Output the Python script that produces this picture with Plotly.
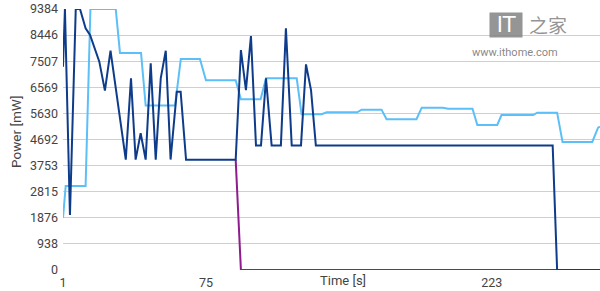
import plotly.graph_objects as go

# ---- data ----
dark_x = [1, 2.0, 4.6, 7.6, 9.8, 12.7, 15.0, 19.8, 22.7, 25.6, 33.5, 36.2, 38.6, 41.2, 43.8,
          46.4, 49.0, 51.6, 54.2, 56.7, 59.9, 61.9, 64.7, 90.4, 93.1, 95.7, 98.3, 100.9,
          103.5, 106.1, 109.0, 113.8, 116.4, 119.4, 124.2, 126.8, 129.4, 131.9, 254.5,
          256.8, 279]
dark_y = [7310, 9384, 1980, 9384, 9384, 8690, 8450, 7490, 6450, 7885, 3970, 6890, 3970, 4915,
          3970, 7430, 3970, 6890, 7885, 3970, 6410, 6410, 3960, 3960, 7910, 6470, 8410, 4480,
          4480, 6890, 4480, 4480, 8690, 4480, 4480, 7395, 6470, 4480, 4480, 0, 0]

light_x = [1, 2.4, 12.7, 15.2, 28.3, 30.5, 41.4, 43.8, 59.0, 62.0, 71.9, 75.0, 90.4, 93.1,
           103.3, 106.1, 122.0, 124.5, 134.9, 137.5, 153.3, 155.6, 165.9, 168.5, 184.0,
           186.7, 197.7, 200.3, 213.0, 215.5, 225.8, 228.0, 244.4, 246.5, 256.8, 259.6,
           275.0, 278.0, 279]
light_y = [1876, 3020, 3020, 9384, 9384, 7805, 7805, 5910, 5910, 7590, 7590, 6820, 6820, 6137,
           6137, 6890, 6890, 5600, 5600, 5670, 5670, 5765, 5765, 5420, 5420, 5836, 5836, 5800,
           5800, 5214, 5214, 5573, 5573, 5656, 5656, 4602, 4602, 5117, 5150]

purple_x = [90.4, 93.1, 256.8]
purple_y = [3960, 0, 0]

y_ticks = [0, 938, 1876, 2815, 3753, 4692, 5630, 6569, 7507, 8446, 9384]
x_ticks = [1, 75, 223]

FONT = "Roboto"
TXT = "#444444"

fig = go.Figure()
fig.add_trace(go.Scatter(x=light_x, y=light_y, mode="lines",
                         line=dict(color="#5cbff7", width=2), showlegend=False))
fig.add_trace(go.Scatter(x=purple_x, y=purple_y, mode="lines",
                         line=dict(color="#8e1c8e", width=2), showlegend=False))
fig.add_trace(go.Scatter(x=dark_x, y=dark_y, mode="lines",
                         line=dict(color="#0e3c8a", width=2), showlegend=False))

fig.update_layout(
    width=600, height=291,
    margin=dict(l=63, r=0, t=9, b=21),
    paper_bgcolor="white", plot_bgcolor="white",
    font=dict(family=FONT, size=12, color=TXT),
    xaxis=dict(range=[1, 279], tickvals=x_ticks, ticktext=[str(v) for v in x_ticks],
               showgrid=False, zeroline=False, showline=False,
               ticks="", ticklabelstandoff=3,
               tickfont=dict(family=FONT, size=12.5, color=TXT)),
    yaxis=dict(range=[0, 9384], tickvals=y_ticks, ticktext=[str(v) for v in y_ticks],
               showgrid=True, gridcolor="#cfcfcf", gridwidth=1.3, zeroline=False,
               showline=False, ticks="", ticklabelstandoff=4,
               tickfont=dict(family=FONT, size=12.5, color=TXT)),
    annotations=[
        dict(text="Time [s]", xref="paper", yref="paper", x=0.521, y=-0.042,
             xanchor="center", yanchor="middle", showarrow=False,
             font=dict(family=FONT, size=13, color=TXT)),
        dict(text="Power [mW]", xref="paper", yref="paper", x=-0.0875, y=0.529,
             xanchor="center", yanchor="middle", textangle=-90, showarrow=False,
             font=dict(family=FONT, size=13.5, color=TXT)),
        dict(text="&nbsp;IT&nbsp;", xref="paper", yref="paper", x=0.825, y=0.94,
             xanchor="center", yanchor="middle", showarrow=False,
             bgcolor="rgba(130,130,130,0.85)", borderpad=0,
             font=dict(family="DejaVu Sans", size=21, color="white")),
        dict(text="之家", xref="paper", yref="paper", x=0.903, y=0.94,
             xanchor="center", yanchor="middle", showarrow=False,
             font=dict(family="Noto Sans CJK SC", size=19, color="rgba(130,130,130,0.85)")),
        dict(text="www.ithome.com", xref="paper", yref="paper", x=0.842, y=0.835,
             xanchor="center", yanchor="middle", showarrow=False,
             font=dict(family=FONT, size=11, color="rgba(120,120,120,0.9)")),
    ],
)

fig.write_html("out.html")
